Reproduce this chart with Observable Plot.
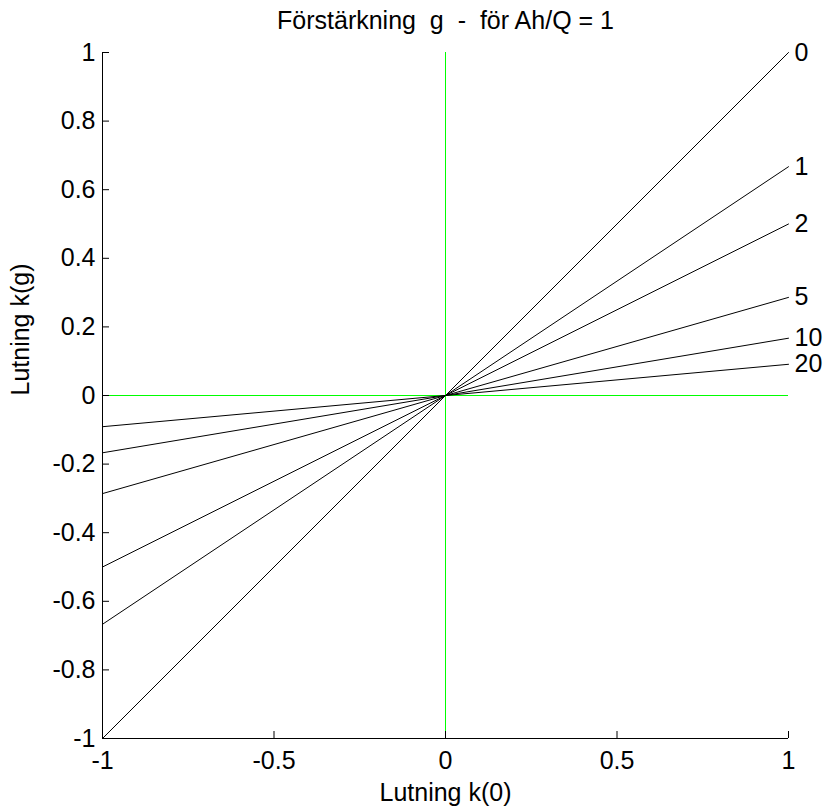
<!DOCTYPE html>
<html><head><meta charset="utf-8">
<script src="https://cdn.jsdelivr.net/npm/d3@7"></script>
<script src="https://cdn.jsdelivr.net/npm/@observablehq/plot@0.6"></script>
<style>
body{margin:0;background:#fff;}
svg text{white-space:pre;}
</style>
</head><body>
<div id="chart"></div>
<script>
const gains = [0, 1, 2, 5, 10, 20];
const slopes = [1, 0.667, 0.5, 0.286, 0.167, 0.091];
const xTicks = [-1, -0.5, 0, 0.5, 1];
const yTicks = [-1, -0.8, -0.6, -0.4, -0.2, 0, 0.2, 0.4, 0.6, 0.8, 1];
const xEnds = [-1, 1];
const title = "Förstärkning  g  -  för Ah/Q = 1";
const xLabel = "Lutning k(0)";
const yLabel = "Lutning k(g)";

const lines = [];
gains.forEach((g, i) => xEnds.forEach(x => lines.push({g, x, y: x * slopes[i]})));
const ends = gains.map((g, i) => ({g, x: 1, y: slopes[i]}));

const font = "Liberation Sans, Arial, sans-serif";
const chart = Plot.plot({
  width: 825, height: 807,
  marginLeft: 102, marginRight: 37, marginTop: 52, marginBottom: 69,
  style: {fontFamily: font, fontSize: "25px", background: "#fff", overflow: "visible"},
  x: {domain: [-1, 1]},
  y: {domain: [-1, 1]},
  marks: [
    Plot.ruleY([0], {x1: -1, x2: 1, stroke: "#00ff00", strokeWidth: 1, shapeRendering: "crispEdges"}),
    Plot.ruleX([0], {y1: -1, y2: 1, stroke: "#00ff00", strokeWidth: 1, shapeRendering: "crispEdges"}),
    Plot.line(lines, {x: "x", y: "y", z: "g", stroke: "#000", strokeWidth: 1}),
    Plot.text(ends, {x: "x", y: "y", text: d => String(d.g), textAnchor: "start", dx: 6, fill: "#000", fontSize: 25}),
    Plot.ruleX([-1], {stroke: "#000"}),
    Plot.ruleY([-1], {stroke: "#000"}),
    Plot.axisX(xTicks, {tickSize: -7, tickPadding: 20, label: null, tickFormat: d => String(d), fontSize: 25, color: "#000"}),
    Plot.axisY(yTicks, {tickSize: -7, tickPadding: 14, label: null, tickFormat: d => String(d), fontSize: 25, color: "#000"}),
    Plot.text([title], {frameAnchor: "top", dy: -24, fontSize: 25, fill: "#000", lineAnchor: "bottom"}),
    Plot.text([xLabel], {frameAnchor: "bottom", dy: 62, fontSize: 25, fill: "#000", lineAnchor: "bottom"}),
    Plot.text([yLabel], {frameAnchor: "left", dx: -82, rotate: -90, fontSize: 25, fill: "#000"})
  ]
});
document.getElementById("chart").appendChild(chart);
</script>
</body></html>
